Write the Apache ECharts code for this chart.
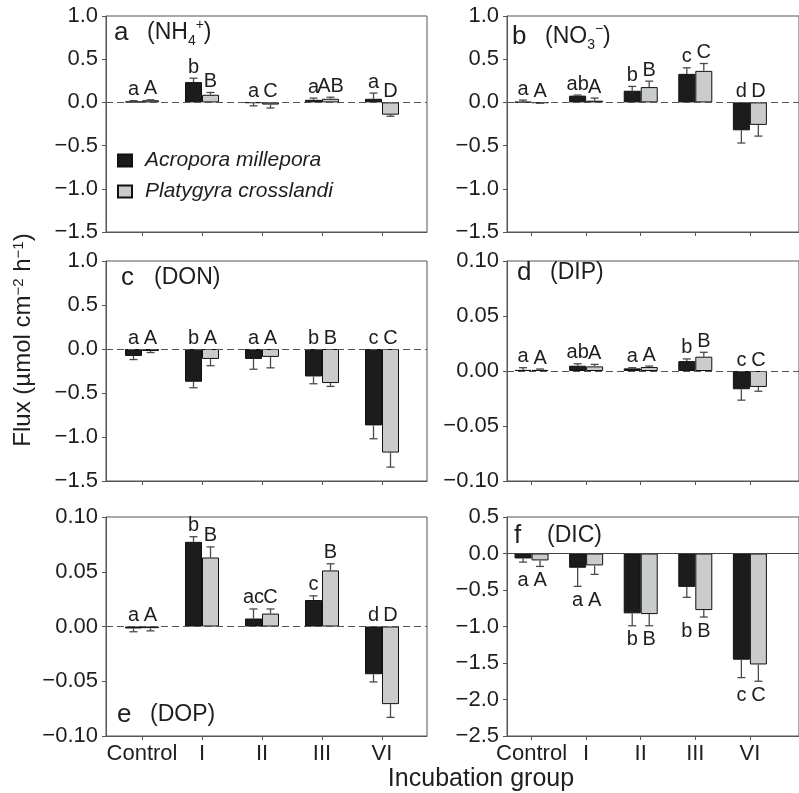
<!DOCTYPE html>
<html>
<head>
<meta charset="utf-8">
<script src="https://cdn.jsdelivr.net/npm/echarts@6/dist/echarts.min.js"></script>
<style>
  html, body { margin: 0; padding: 0; background: #fff; }
  #chart { width: 799px; height: 793px; }
</style>
</head>
<body>
<div id="chart"></div>
<script>
// incubation groups and coral species
var groups = ['Control', 'I', 'II', 'III', 'VI'];
var species = ['Acropora millepora', 'Platygyra crosslandi'];

// a (NH4+)
var nh4Acro = [0.01, 0.235, -0.005, 0.03, 0.042];
var nh4AcroErr = [0.01, 0.045, 0.035, 0.02, 0.066];
var nh4Platy = [0.025, 0.088, -0.025, 0.042, -0.142];
var nh4PlatyErr = [0.005, 0.027, 0.04, 0.018, 0.018];
var nh4AcroLetters = ['a', 'b', 'a', 'a', 'a'];
var nh4PlatyLetters = ['A', 'B', 'C', 'AB', 'D'];

// b (NO3-)
var no3Acro = [0.005, 0.078, 0.135, 0.33, -0.323];
var no3AcroErr = [0.022, 0.007, 0.05, 0.07, 0.147];
var no3Platy = [-0.005, 0.02, 0.177, 0.365, -0.26];
var no3PlatyErr = [0.005, 0.03, 0.069, 0.085, 0.13];
var no3AcroLetters = ['a', 'ab', 'b', 'c', 'd'];
var no3PlatyLetters = ['A', 'A', 'B', 'C', 'D'];

// c (DON)
var donAcro = [-0.079, -0.372, -0.113, -0.312, -0.868];
var donAcroErr = [0.041, 0.068, 0.117, 0.083, 0.152];
var donPlaty = [-0.023, -0.113, -0.09, -0.387, -1.177];
var donPlatyErr = [0.017, 0.077, 0.124, 0.038, 0.165];
var donAcroLetters = ['a', 'b', 'a', 'b', 'c'];
var donPlatyLetters = ['A', 'A', 'A', 'B', 'C'];

// d (DIP)
var dipAcro = [0.001, 0.0048, 0.0024, 0.009, -0.0166];
var dipAcroErr = [0.002, 0.0018, 0.0006, 0.002, 0.0099];
var dipPlaty = [0.001, 0.0042, 0.0036, 0.013, -0.0145];
var dipPlatyErr = [0.0008, 0.0018, 0.0009, 0.004, 0.0039];
var dipAcroLetters = ['a', 'ab', 'a', 'b', 'c'];
var dipPlatyLetters = ['A', 'A', 'A', 'B', 'C'];

// e (DOP)
var dopAcro = [-0.0018, 0.0773, 0.0073, 0.0242, -0.0436];
var dopAcroErr = [0.003, 0.0047, 0.0087, 0.0038, 0.007];
var dopPlaty = [-0.0015, 0.063, 0.0118, 0.0512, -0.0709];
var dopPlatyErr = [0.0025, 0.0097, 0.0042, 0.0061, 0.0121];
var dopAcroLetters = ['a', 'b', 'ac', 'c', 'd'];
var dopPlatyLetters = ['A', 'B', 'C', 'B', 'D'];

// f (DIC)
var dicAcro = [-0.068, -0.195, -0.82, -0.457, -1.455];
var dicAcroErr = [0.05, 0.255, 0.17, 0.143, 0.245];
var dicPlaty = [-0.095, -0.163, -0.83, -0.775, -1.52];
var dicPlatyErr = [0.082, 0.123, 0.16, 0.095, 0.23];
var dicAcroLetters = ['a', 'a', 'b', 'b', 'c'];
var dicPlatyLetters = ['A', 'A', 'B', 'B', 'C'];

var FONT = '"Liberation Sans", Arial, Helvetica, sans-serif';
var INK = '#1e1e1e';
var AXIS = '#555';

var panels = [
    {title: '{l|a}{p|(NH}{sub|4}{sup|+}{p|)}', acro: nh4Acro, acroErr: nh4AcroErr, platy: nh4Platy, platyErr: nh4PlatyErr,
        lo: nh4AcroLetters, up: nh4PlatyLetters, min: -1.5, max: 1, step: 0.5, dec: 1},
    {title: '{l|b}{p|(NO}{sub|3}{sup|−}{p|)}', acro: no3Acro, acroErr: no3AcroErr, platy: no3Platy, platyErr: no3PlatyErr,
        lo: no3AcroLetters, up: no3PlatyLetters, min: -1.5, max: 1, step: 0.5, dec: 1},
    {title: '{l|c}{p|(DON)}', acro: donAcro, acroErr: donAcroErr, platy: donPlaty, platyErr: donPlatyErr,
        lo: donAcroLetters, up: donPlatyLetters, min: -1.5, max: 1, step: 0.5, dec: 1},
    {title: '{l|d}{p|(DIP)}', acro: dipAcro, acroErr: dipAcroErr, platy: dipPlaty, platyErr: dipPlatyErr,
        lo: dipAcroLetters, up: dipPlatyLetters, min: -0.1, max: 0.1, step: 0.05, dec: 2},
    {title: '{l|e}{p|(DOP)}', acro: dopAcro, acroErr: dopAcroErr, platy: dopPlaty, platyErr: dopPlatyErr,
        lo: dopAcroLetters, up: dopPlatyLetters, min: -0.1, max: 0.1, step: 0.05, dec: 2},
    {title: '{l|f}{p|(DIC)}', acro: dicAcro, acroErr: dicAcroErr, platy: dicPlaty, platyErr: dicPlatyErr,
        lo: dicAcroLetters, up: dicPlatyLetters, min: -2.5, max: 0.5, step: 0.5, dec: 1, below: true}
];

// layout
var rowTop = [16, 261, 517];
var rowH = [216, 220, 219];
var colLeft = [106, 507];
var colMin = [-0.6, -0.45];
var GRID_W = 321;
var PX_PER_GROUP = 60;
var BAR_W = 17;
var titlePos = [[114, 18], [512, 22], [121, 263], [517, 258], [117, 700], [514, 521]];

var titleRich = {
    l: {fontSize: 26, fontWeight: 'normal', width: 33, lineHeight: 30, fontFamily: FONT, color: INK},
    p: {fontSize: 23, fontWeight: 'normal', lineHeight: 30, fontFamily: FONT, color: INK},
    sub: {fontSize: 14, fontWeight: 'normal', lineHeight: 14, verticalAlign: 'bottom', fontFamily: FONT, color: INK},
    sup: {fontSize: 14, fontWeight: 'normal', lineHeight: 27, verticalAlign: 'top', fontFamily: FONT, color: INK}
};

function tickLabel(dec) {
    return function (v) {
        var s = Math.abs(v).toFixed(dec);
        return (v < -1e-9 ? '−' : '') + s;
    };
}

function makeRender(p) {
    return function (params, api) {
        var i = api.value(0);
        var base = api.coord([i, 0]);
        var kids = [];
        var bars = [
            [api.value(1), api.value(2), -BAR_W / 2, p.lo[params.dataIndex]],
            [api.value(3), api.value(4), BAR_W / 2, p.up[params.dataIndex]]
        ];
        bars.forEach(function (b) {
            var v = b[0], e = b[1], x = base[0] + b[2];
            var tipY = api.coord([i, v >= 0 ? v + e : v - e])[1];
            var barY = api.coord([i, v])[1];
            var st = {stroke: '#4a4a4a', lineWidth: 1.3};
            kids.push({type: 'line', shape: {x1: x, y1: barY, x2: x, y2: tipY}, style: st});
            kids.push({type: 'line', shape: {x1: x - 4, y1: tipY, x2: x + 4, y2: tipY}, style: st});
            if (!p.below) {
                var ay = api.coord([i, Math.max(0, v >= 0 ? v + e : 0)])[1];
                kids.push({type: 'text', x: x, y: ay - 1, style: {
                    text: b[3], fill: INK, fontSize: 20, fontFamily: FONT,
                    align: 'center', verticalAlign: 'bottom'}});
            }
        });
        if (p.below) {
            var low = Math.min(api.value(1) - api.value(2), api.value(3) - api.value(4));
            var ly = api.coord([i, low])[1] + 4;
            bars.forEach(function (b) {
                kids.push({type: 'text', x: base[0] + b[2], y: ly, style: {
                    text: b[3], fill: INK, fontSize: 20, fontFamily: FONT,
                    align: 'center', verticalAlign: 'top'}});
            });
        }
        return {type: 'group', children: kids};
    };
}

var grids = [], xAxes = [], yAxes = [], series = [], titles = [];

panels.forEach(function (p, k) {
    var col = k % 2, row = Math.floor(k / 2);
    grids.push({left: colLeft[col], top: rowTop[row], width: GRID_W, height: rowH[row],
        show: true, borderColor: AXIS, borderWidth: 1, backgroundColor: 'transparent'});
    xAxes.push({
        gridIndex: k, type: 'value',
        min: colMin[col], max: colMin[col] + GRID_W / PX_PER_GROUP,
        axisLine: {show: true, onZero: false, lineStyle: {color: AXIS, width: 1}},
        axisTick: {show: true, customValues: [0, 1, 2, 3, 4], length: 4, lineStyle: {color: AXIS}},
        axisLabel: {show: row === 2, customValues: [0, 1, 2, 3, 4], margin: 7,
            formatter: function (v) { return groups[Math.round(v)]; },
            fontSize: 22, fontFamily: FONT, color: INK},
        splitLine: {show: false}
    });
    yAxes.push({
        gridIndex: k, type: 'value', min: p.min, max: p.max, interval: p.step,
        axisLine: {show: true, onZero: false, lineStyle: {color: AXIS, width: 1}},
        axisTick: {show: true, length: 4, lineStyle: {color: AXIS}},
        axisLabel: {formatter: tickLabel(p.dec), margin: 8, fontSize: 22, fontFamily: FONT, color: INK},
        splitLine: {show: false}
    });
    titles.push({text: p.title, left: titlePos[k][0], top: titlePos[k][1], padding: 0,
        textStyle: {fontWeight: 'normal', rich: titleRich}});

    series.push({
        type: 'bar', name: species[0], xAxisIndex: k, yAxisIndex: k,
        barWidth: BAR_W, barGap: '0%',
        data: groups.map(function (g, i) { return [i, p.acro[i]]; }),
        itemStyle: {color: '#1c1c1e', borderColor: '#111', borderWidth: 1},
        markLine: {
            silent: true, symbol: 'none', label: {show: false},
            lineStyle: p.below ? {color: '#444', type: 'solid', width: 1.2}
                               : {color: '#555', type: [7, 4], width: 1.2},
            data: [{yAxis: 0}]
        }
    });
    series.push({
        type: 'bar', name: species[1], xAxisIndex: k, yAxisIndex: k,
        barWidth: BAR_W, barGap: '0%',
        data: groups.map(function (g, i) { return [i, p.platy[i]]; }),
        itemStyle: {color: '#c9cbcd', borderColor: '#111', borderWidth: 1}
    });
    series.push({
        type: 'custom', xAxisIndex: k, yAxisIndex: k, z: 5,
        data: groups.map(function (g, i) { return [i, p.acro[i], p.acroErr[i], p.platy[i], p.platyErr[i]]; }),
        renderItem: makeRender(p)
    });
});

var chart = echarts.init(document.getElementById('chart'), null, {renderer: 'canvas'});
chart.setOption({
    animation: false,
    backgroundColor: '#fff',
    title: titles,
    legend: {
        data: species, orient: 'vertical', left: 117, top: 150, padding: 0,
        icon: 'rect', itemWidth: 14, itemHeight: 12, itemGap: 10, selectedMode: false,
        textStyle: {fontSize: 21, fontStyle: 'italic', fontFamily: FONT, color: INK, padding: [0, 0, 0, 8]}
    },
    grid: grids,
    xAxis: xAxes,
    yAxis: yAxes,
    series: series,
    graphic: [
        {type: 'text', x: 23, y: 340, rotation: Math.PI / 2, style: {
            text: 'Flux (µmol cm{sup|−2} h{sup|−1})', fill: INK, fontSize: 24, fontFamily: FONT,
            align: 'center', verticalAlign: 'middle',
            rich: {sup: {fontSize: 15, lineHeight: 15, verticalAlign: 'top', fontFamily: FONT, fill: INK}}
        }},
        {type: 'text', x: 481, y: 779, style: {
            text: 'Incubation group', fill: INK, fontSize: 25, fontFamily: FONT,
            align: 'center', verticalAlign: 'middle'
        }}
    ]
});
</script>
</body>
</html>
